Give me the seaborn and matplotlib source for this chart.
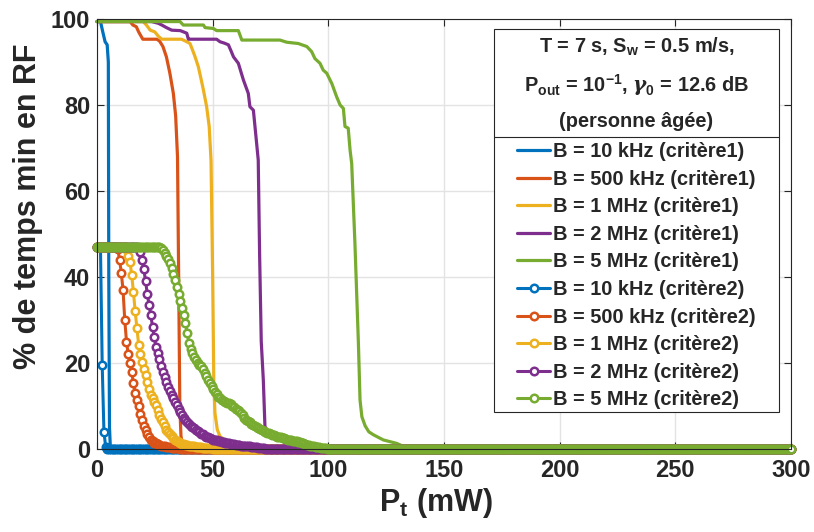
import numpy as np
import pandas as pd
import matplotlib
matplotlib.use("Agg")
import matplotlib.pyplot as plt
import seaborn as sns
from matplotlib.patches import Rectangle
from matplotlib.lines import Line2D

# couleurs MATLAB
colors = ['#0072BD', '#D95319', '#EDB120', '#7E2F8E', '#77AC30']
bandes = ['10 kHz', '500 kHz', '1 MHz', '2 MHz', '5 MHz']

# critere 1 (courbes, sommets de la polyligne)
blue1_x = [0, 1.5, 2.5, 3.5, 4.4, 4.9, 5.1, 5.4, 5.8, 300]
blue1_y = [99.4, 99.4, 97.0, 94.7, 94.0, 90.0, 40.0, 5.0, 0.0, 0.0]

orange1_x = [0, 14.3, 15.5, 17.0, 18.0, 19.8, 25.8, 27.0, 28.5, 30.0, 31.5, 33.0, 34.0,
             34.8, 35.3, 35.8, 36.3, 37.0, 38.0, 300]
orange1_y = [99.4, 99.4, 98.6, 98.2, 97.0, 95.3, 95.3, 94.9, 93.6, 91.2, 87.4, 82.7, 77.5,
             68.0, 40.0, 10.0, 3.0, 1.0, 0.0, 0.0]

yellow1_x = [0, 20.0, 21.5, 23.0, 25.0, 26.5, 28.0, 36.5, 38.5, 40.2, 41.5, 42.4, 43.8, 45.0,
             46.0, 47.4, 48.5, 49.3, 50.0, 50.5, 51.0, 52.0, 53.2, 55.0, 57.5, 60.0, 300]
yellow1_y = [99.4, 99.4, 98.5, 97.4, 97.0, 96.0, 95.3, 95.3, 94.8, 94.3, 92.5, 91.2, 88.9, 86.0,
             83.5, 79.6, 75.0, 67.0, 40.0, 15.0, 8.3, 4.5, 2.9, 2.2, 1.7, 0.0, 0.0]

purple1_x = [0, 23.6, 26.5, 28.0, 30.0, 32.3, 36.0, 38.8, 39.5, 40.2, 51.7, 53.2, 55.0, 56.8,
             58.0, 59.0, 61.1, 63.3, 65.4, 66.1, 67.6, 69.0, 69.7, 70.3, 71.0, 71.9, 72.6, 74.0,
             75.5, 79.1, 82.0, 85.0, 300]
purple1_y = [99.4, 99.4, 99.0, 98.6, 98.0, 97.4, 97.3, 96.7, 95.3, 95.3, 95.3, 94.7, 94.4, 94.0,
             92.5, 91.2, 89.7, 85.8, 82.7, 79.6, 78.8, 71.1, 67.2, 45.0, 25.0, 16.0, 5.2, 4.0,
             3.3, 2.1, 1.2, 0.0, 0.0]

green1_x = [0, 35.9, 37.3, 46.0, 46.7, 50.3, 51.7, 61.1, 62.6, 79.1, 82.0, 87.0, 90.7, 92.8,
            94.2, 96.4, 97.8, 99.3, 101.5, 103.6, 105.1, 106.5, 107.2, 108.6, 109.4, 110.1,
            111.5, 113.0, 113.7, 114.5, 115.9, 117.5, 119.5, 123.8, 129.6, 135.0, 300]
green1_y = [99.4, 99.4, 98.6, 98.6, 98.0, 97.8, 97.3, 97.3, 95.1, 95.1, 94.6, 94.3, 93.6, 92.4,
            90.8, 89.7, 88.1, 87.4, 85.0, 81.9, 80.0, 79.2, 75.0, 74.6, 69.5, 66.4,
            47.8, 24.6, 11.4, 7.5, 5.4, 4.0, 3.3, 2.1, 1.3, 0.0, 0.0]

# critere 2 : une valeur par pas de 0.75 mW (0 -> 300 mW), reste a 0
P2 = np.linspace(0, 300, 401)
blue2 = [47.0, 47.0, 47.0, 19.5, 4.0, 0.5]
orange2 = [47.0] * 12 + [46.5, 44.0, 41.0, 37.0, 30.0, 25.0, 22.0, 20.0, 17.8, 15.3, 13.0, 11.5,
                         10.0, 8.2, 6.8, 5.4, 4.4, 3.4, 2.7, 2.2, 1.8, 1.5, 1.3, 1.1, 0.9, 0.8,
                         0.7, 0.6, 0.5, 0.4, 0.4, 0.3, 0.3, 0.3, 0.2, 0.2, 0.1]
yellow2 = [47.0] * 17 + [46.5, 45.0, 43.6, 40.5, 36.5, 32.0, 28.2, 24.3, 22.0, 20.3, 18.6, 17.2,
                         15.5, 14.0, 12.6, 11.8, 11.0, 10.2, 9.1, 8.0, 7.0, 6.2, 5.3, 4.5, 4.0,
                         3.4, 3.0, 2.5, 2.2, 1.9, 1.6, 1.4, 1.2, 1.1, 1.0, 0.9, 0.8, 0.7, 0.6,
                         0.6, 0.5, 0.5, 0.4, 0.4, 0.3, 0.3, 0.3, 0.2, 0.2, 0.2, 0.1, 0.1]
purple2 = [47.0] * 24 + [46.8, 45.8, 44.0, 41.8, 39.0, 36.0, 33.6, 31.2, 28.4, 26.0, 23.8, 22.4,
                         21.0, 19.4, 18.0, 16.8, 15.6, 14.4, 13.5, 12.6, 11.8, 11.0, 10.2, 9.4,
                         8.5, 7.8, 7.2, 6.7, 6.2, 5.8, 5.4, 5.1, 4.8, 4.5, 4.2, 3.9, 3.6, 3.4,
                         3.1, 2.9, 2.7, 2.5, 2.4, 2.2, 2.1, 2.0, 1.9, 1.8, 1.7, 1.6, 1.5, 1.4,
                         1.3, 1.2, 1.1, 1.1, 1.0, 0.9, 0.9, 0.8, 0.8, 0.7, 0.7, 0.6, 0.6, 0.5,
                         0.5, 0.4, 0.4, 0.3, 0.3, 0.2, 0.2, 0.1, 0.1]
green2 = [47.0] * 37 + [46.8, 46.2, 45.6, 44.9, 44.1, 43.3, 42.0, 40.6, 39.3, 37.7, 36.0, 34.5,
                        32.8, 31.1, 29.3, 26.9, 24.6, 23.3, 22.3, 21.4, 20.7, 20.1, 19.6, 19.2,
                        18.5, 17.7, 16.9, 16.1, 15.4, 14.6, 13.9, 13.3, 12.7, 12.2, 11.8, 11.5,
                        11.2, 11.0, 10.8, 10.6, 10.4, 10.1, 9.8, 9.4, 9.1, 8.8, 8.3, 7.8, 7.3,
                        6.8, 6.5, 6.2, 5.9, 5.6, 5.4, 5.2, 4.9, 4.6, 4.4, 4.2, 4.0, 3.8, 3.7,
                        3.5, 3.3, 3.2, 3.0, 2.9, 2.8, 2.7, 2.6, 2.5, 2.3, 2.2, 2.1, 2.0, 1.9,
                        1.8, 1.8, 1.7, 1.6, 1.5, 1.3, 1.2, 1.0, 0.9, 0.8, 0.7, 0.6, 0.5, 0.4,
                        0.4, 0.3, 0.3, 0.2, 0.2, 0.1, 0.1]


def pad(v):
    return v + [0.0] * (len(P2) - len(v))


crit1 = [(blue1_x, blue1_y), (orange1_x, orange1_y), (yellow1_x, yellow1_y),
         (purple1_x, purple1_y), (green1_x, green1_y)]
crit2 = [blue2, orange2, yellow2, purple2, green2]

sns.set_style("ticks")
plt.rcParams['font.family'] = ['Liberation Sans', 'DejaVu Sans']
plt.rcParams['font.weight'] = 'bold'
plt.rcParams['axes.labelweight'] = 'bold'
plt.rcParams['mathtext.fontset'] = 'custom'
plt.rcParams['mathtext.rm'] = 'Liberation Sans:bold'
plt.rcParams['mathtext.bf'] = 'Liberation Sans:bold'
plt.rcParams['mathtext.it'] = 'DejaVu Serif:italic'

fig, ax = plt.subplots(figsize=(8.14, 5.32), dpi=100)
fig.subplots_adjust(left=97/814, right=791/814, bottom=1-449/532, top=1-19/532)

for (xs, ys), c, b in zip(crit1, colors, bandes):
    df = pd.DataFrame({'P': xs, 'pct': ys})
    sns.lineplot(data=df, x='P', y='pct', ax=ax, color=c, lw=2.3, estimator=None,
                 sort=False, label=f'B = {b} (critère1)', clip_on=False)

for ys, c, b in zip(crit2, colors, bandes):
    df = pd.DataFrame({'P': P2, 'pct': pad(ys)})
    sns.lineplot(data=df, x='P', y='pct', ax=ax, color=c, lw=2.2, estimator=None,
                 sort=False, marker='o', markersize=5.4, markerfacecolor='white',
                 markeredgecolor=c, markeredgewidth=1.8,
                 label=f'B = {b} (critère2)', clip_on=False)

ax.set_xlim(0, 300)
ax.set_ylim(0, 100)
ax.set_xticks(np.arange(0, 301, 50))
ax.set_yticks(np.arange(0, 101, 20))
ax.grid(True, color='#e3e3e3', lw=1)
ax.tick_params(direction='in', length=5, width=0.8, top=True, right=True,
               labelsize=17, colors='#262626')
ax.tick_params(axis='x', pad=7)
ax.tick_params(axis='y', pad=5)
for s in ax.spines.values():
    s.set_color('#262626')
    s.set_linewidth(0.8)
ax.set_xlabel(r'P$_\mathbf{t}$ (mW)', fontsize=22, color='#262626')
ax.set_ylabel('% de temps min en RF', fontsize=22, color='#262626')
ax.xaxis.set_label_coords(0.489, -0.085)
ax.yaxis.set_label_coords(-0.078, 0.565)

handles, labels = ax.get_legend_handles_labels()
ax.get_legend().remove()

# cadre de la legende
x0, x1, yt, yb, ysep = 494, 779, 29, 412, 137
fig.add_artist(Rectangle((x0/814, 1-yb/532), (x1-x0)/814, (yb-yt)/532,
                         transform=fig.transFigure, facecolor='white',
                         edgecolor='#262626', lw=0.8, zorder=4))
fig.add_artist(Line2D([x0/814, x1/814], [1-ysep/532]*2, transform=fig.transFigure,
                      color='#262626', lw=0.8, zorder=4.5))
xc = (x0 + x1) / 2 / 814
fig.text(xc, 1-47/532, r'T = 7 s, S$_\mathbf{w}$ = 0.5 m/s,', ha='center', va='center',
         fontsize=14.4, zorder=6)
fig.text(xc, 1-85/532, r'P$_\mathbf{out}$ = 10$^\mathbf{-1}$, $\gamma_\mathbf{0}$ = 12.6 dB',
         ha='center', va='center', fontsize=14.4, zorder=6)
fig.text(xc, 1-121/532, '(personne âgée)', ha='center', va='center', fontsize=14.4, zorder=6)

leg = fig.legend(handles, labels, loc='upper center', bbox_to_anchor=(xc, 1-142/532),
                 frameon=False, fontsize=14.4, handlelength=1.65, handletextpad=0.15,
                 labelspacing=0.43, borderpad=0, borderaxespad=0)
leg.set_zorder(7)

fig.savefig('out.png', dpi=100)
